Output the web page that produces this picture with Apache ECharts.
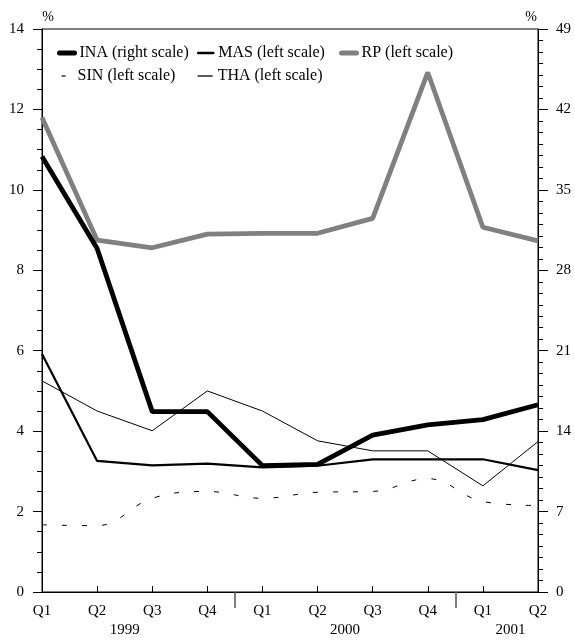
<!DOCTYPE html>
<html>
<head>
<meta charset="utf-8">
<script src="https://cdn.jsdelivr.net/npm/echarts@6/dist/echarts.min.js"></script>
<style>
  html, body { margin: 0; padding: 0; background: #fff; }
  #chart { width: 575px; height: 642px; }
</style>
</head>
<body>
<div id="chart"></div>
<script>
// Quarterly periods and the year each one belongs to
const quarters = ['Q1', 'Q2', 'Q3', 'Q4', 'Q1', 'Q2', 'Q3', 'Q4', 'Q1', 'Q2'];
const quarterYears = ['1999', '1999', '1999', '1999', '2000', '2000', '2000', '2000', '2001', '2001'];

// Series values, per cent
const ina = [37.9, 29.9, 15.7, 15.7, 11.0, 11.1, 13.65, 14.55, 15.0, 16.3]; // right scale
const mas = [5.92, 3.26, 3.15, 3.19, 3.10, 3.14, 3.30, 3.30, 3.30, 3.03];
const rp  = [11.80, 8.75, 8.56, 8.90, 8.92, 8.92, 9.29, 12.92, 9.07, 8.73];
const sin = [1.67, 1.65, 2.33, 2.50, 2.33, 2.48, 2.50, 2.82, 2.25, 2.15];
const tha = [5.25, 4.50, 4.01, 5.00, 4.50, 3.76, 3.51, 3.51, 2.64, 3.74];

// Axis ranges
const leftAxis = { min: 0, max: 14, interval: 2 };
const rightAxis = { min: 0, max: 49, interval: 7 };

// Year groups: label at the middle of each run of quarters, separators between runs
const yearGroups = [];
quarterYears.forEach((y, i) => {
  const last = yearGroups[yearGroups.length - 1];
  if (last && last.year === y) last.end = i;
  else yearGroups.push({ year: y, start: i, end: i });
});
const yearCentres = yearGroups.map(g => (g.start + g.end) / 2);
const yearBreaks = yearGroups.slice(1).map(g => g.start - 0.5);
const yearAt = {};
yearGroups.forEach((g, i) => { yearAt[yearCentres[i]] = g.year; });

const FONT = '"Liberation Serif", "Times New Roman", "DejaVu Serif", serif';
const chart = echarts.init(document.getElementById('chart'), null, { renderer: 'canvas' });

// One legend per entry so the entries sit in fixed columns
function legendItem(name, left, top, lineStyle) {
  return {
    data: [name],
    left: left, top: top,
    padding: 0,
    itemWidth: 15, itemHeight: 11,
    selectedMode: false,
    textStyle: { fontFamily: FONT, fontSize: 16, color: '#000' },
    itemStyle: { color: 'rgba(0,0,0,0)', borderWidth: 0, opacity: 0 },
    lineStyle: Object.assign({ cap: 'round', color: '#000' }, lineStyle)
  };
}

const option = {
  animation: false,
  backgroundColor: '#fff',
  textStyle: { fontFamily: FONT },
  grid: { left: 42, right: 37, top: 29, bottom: 50, show: true, borderColor: '#000', borderWidth: 1 },
  legend: [
    legendItem('INA (right scale)', 57, 45, { width: 5 }),
    legendItem('MAS (left scale)', 197, 45, { width: 2.5 }),
    legendItem('RP (left scale)', 339, 45, { width: 5, color: '#808080' }),
    legendItem('SIN (left scale)', 57, 68, { width: 1.2, type: [4, 15], dashOffset: -4, cap: 'butt' }),
    legendItem('THA (left scale)', 197, 68, { width: 1.3, cap: 'butt' })
  ],
  xAxis: [
    {
      type: 'category',
      data: quarters,
      boundaryGap: false,
      position: 'bottom',
      axisLine: { lineStyle: { color: '#000', width: 1 } },
      axisTick: { inside: true, length: 6, lineStyle: { color: '#000' } },
      axisLabel: { interval: 0, margin: 12, fontFamily: FONT, fontSize: 15, color: '#000' },
      splitLine: { show: false }
    },
    {
      type: 'value',
      min: 0, max: quarters.length - 1,
      position: 'bottom',
      offset: 30,
      axisLine: { show: false },
      axisTick: { show: true, customValues: yearBreaks, length: 16, lineStyle: { color: '#555', width: 1.5 } },
      axisLabel: {
        customValues: yearCentres,
        margin: 1,
        fontFamily: FONT, fontSize: 15, color: '#000',
        formatter: v => yearAt[v] || ''
      },
      splitLine: { show: false }
    }
  ],
  yAxis: [
    {
      type: 'value',
      position: 'left',
      min: leftAxis.min, max: leftAxis.max, interval: leftAxis.interval,
      name: '%', nameLocation: 'end', nameGap: 5,
      nameTextStyle: { fontFamily: FONT, fontSize: 14, color: '#000', padding: [0, 0, 0, 12] },
      axisLine: { show: true, lineStyle: { color: '#000', width: 1 } },
      axisTick: { show: true, length: 9, lineStyle: { color: '#000' } },
      minorTick: { show: true, splitNumber: 4, length: 5, lineStyle: { color: '#000' } },
      axisLabel: { margin: 18, fontFamily: FONT, fontSize: 15, color: '#000' },
      splitLine: { show: false }
    },
    {
      type: 'value',
      position: 'right',
      min: rightAxis.min, max: rightAxis.max, interval: rightAxis.interval,
      name: '%', nameLocation: 'end', nameGap: 5,
      nameTextStyle: { fontFamily: FONT, fontSize: 14, color: '#000', padding: [0, 14, 0, 0] },
      axisLine: { show: true, lineStyle: { color: '#000', width: 1 } },
      axisTick: { show: true, length: 10, lineStyle: { color: '#000' } },
      minorTick: { show: true, splitNumber: 7, length: 5, lineStyle: { color: '#000' } },
      axisLabel: { margin: 18, fontFamily: FONT, fontSize: 15, color: '#000' },
      splitLine: { show: false }
    }
  ],
  series: [
    {
      name: 'MAS (left scale)', type: 'line', data: mas, yAxisIndex: 0, xAxisIndex: 0,
      symbol: 'none', z: 3,
      lineStyle: { color: '#000', width: 2.2 }, itemStyle: { color: '#000' }
    },
    {
      name: 'THA (left scale)', type: 'line', data: tha, yAxisIndex: 0, xAxisIndex: 0,
      symbol: 'none', z: 3,
      lineStyle: { color: '#000', width: 1 }, itemStyle: { color: '#000' }
    },
    {
      name: 'SIN (left scale)', type: 'line', data: sin, yAxisIndex: 0, xAxisIndex: 0,
      symbol: 'none', smooth: 0.4, z: 3,
      lineStyle: { color: '#000', width: 1, type: [5, 15] }, itemStyle: { color: '#000' }
    },
    {
      name: 'RP (left scale)', type: 'line', data: rp, yAxisIndex: 0, xAxisIndex: 0,
      symbol: 'none', z: 4,
      lineStyle: { color: '#808080', width: 4.8 }, itemStyle: { color: '#808080' }
    },
    {
      name: 'INA (right scale)', type: 'line', data: ina, yAxisIndex: 1, xAxisIndex: 0,
      symbol: 'none', z: 5,
      lineStyle: { color: '#000', width: 4.8 }, itemStyle: { color: '#000' }
    }
  ]
};

chart.setOption(option);
</script>
</body>
</html>
